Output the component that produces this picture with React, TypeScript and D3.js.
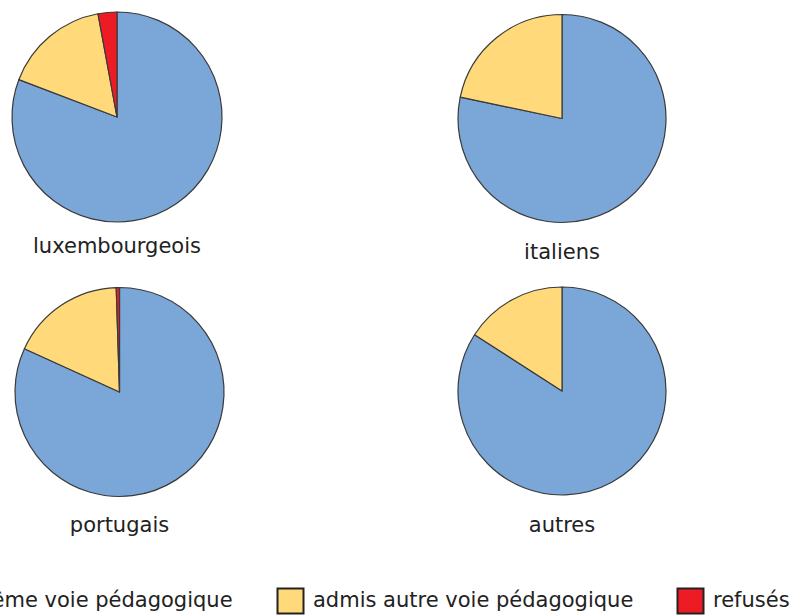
import React from "react";
import * as d3 from "d3";

const categories = ["admis même voie pédagogique", "admis autre voie pédagogique", "refusés"];
const colors = ["#7ba7d8", "#ffd97a", "#ed1c24"];
const groups = ["luxembourgeois", "italiens", "portugais", "autres"];
const sameTrack = [80.8, 78.3, 81.8, 84.1];
const otherTrack = [16.3, 21.7, 17.7, 15.9];
const refused = [2.9, 0, 0.5, 0];

const centers = [
  { cx: 117, cy: 117, r: 105, ly: 253 },
  { cx: 562, cy: 118.5, r: 104, ly: 259 },
  { cx: 119.5, cy: 392, r: 104.5, ly: 531.5 },
  { cx: 562, cy: 391, r: 104, ly: 531.5 },
];

export default function App() {
  const pie = d3.pie<number>().sort(null).value((d) => d);
  const legendX = [-135, 277, 677];
  return (
    <svg
      width={797}
      height={615}
      style={{ position: "absolute", left: 0, top: 0, background: "#fff" }}
      fontFamily="'DejaVu Sans', sans-serif"
    >
      {groups.map((g, i) => {
        const c = centers[i];
        const arc = d3.arc<d3.PieArcDatum<number>>().innerRadius(0).outerRadius(c.r);
        const arcs = pie([sameTrack[i], otherTrack[i], refused[i]]);
        return (
          <g key={g}>
            <g transform={`translate(${c.cx},${c.cy})`}>
              {arcs.map((a, j) =>
                a.value > 0 ? (
                  <path key={j} d={arc(a) || ""} fill={colors[j]} stroke="#3a3a3a" strokeWidth={1.2} strokeLinejoin="round" />
                ) : null
              )}
            </g>
            <text x={c.cx} y={c.ly} textAnchor="middle" fontSize={21} fill="#222">
              {g}
            </text>
          </g>
        );
      })}
      {categories.map((cat, j) => (
        <g key={cat} transform={`translate(${legendX[j]},588)`}>
          <rect x={0.5} y={0.5} width={26} height={25} fill={colors[j]} stroke="#222" strokeWidth={2} />
          <text x={36} y={19} fontSize={21} fill="#222">
            {cat}
          </text>
        </g>
      ))}
    </svg>
  );
}
